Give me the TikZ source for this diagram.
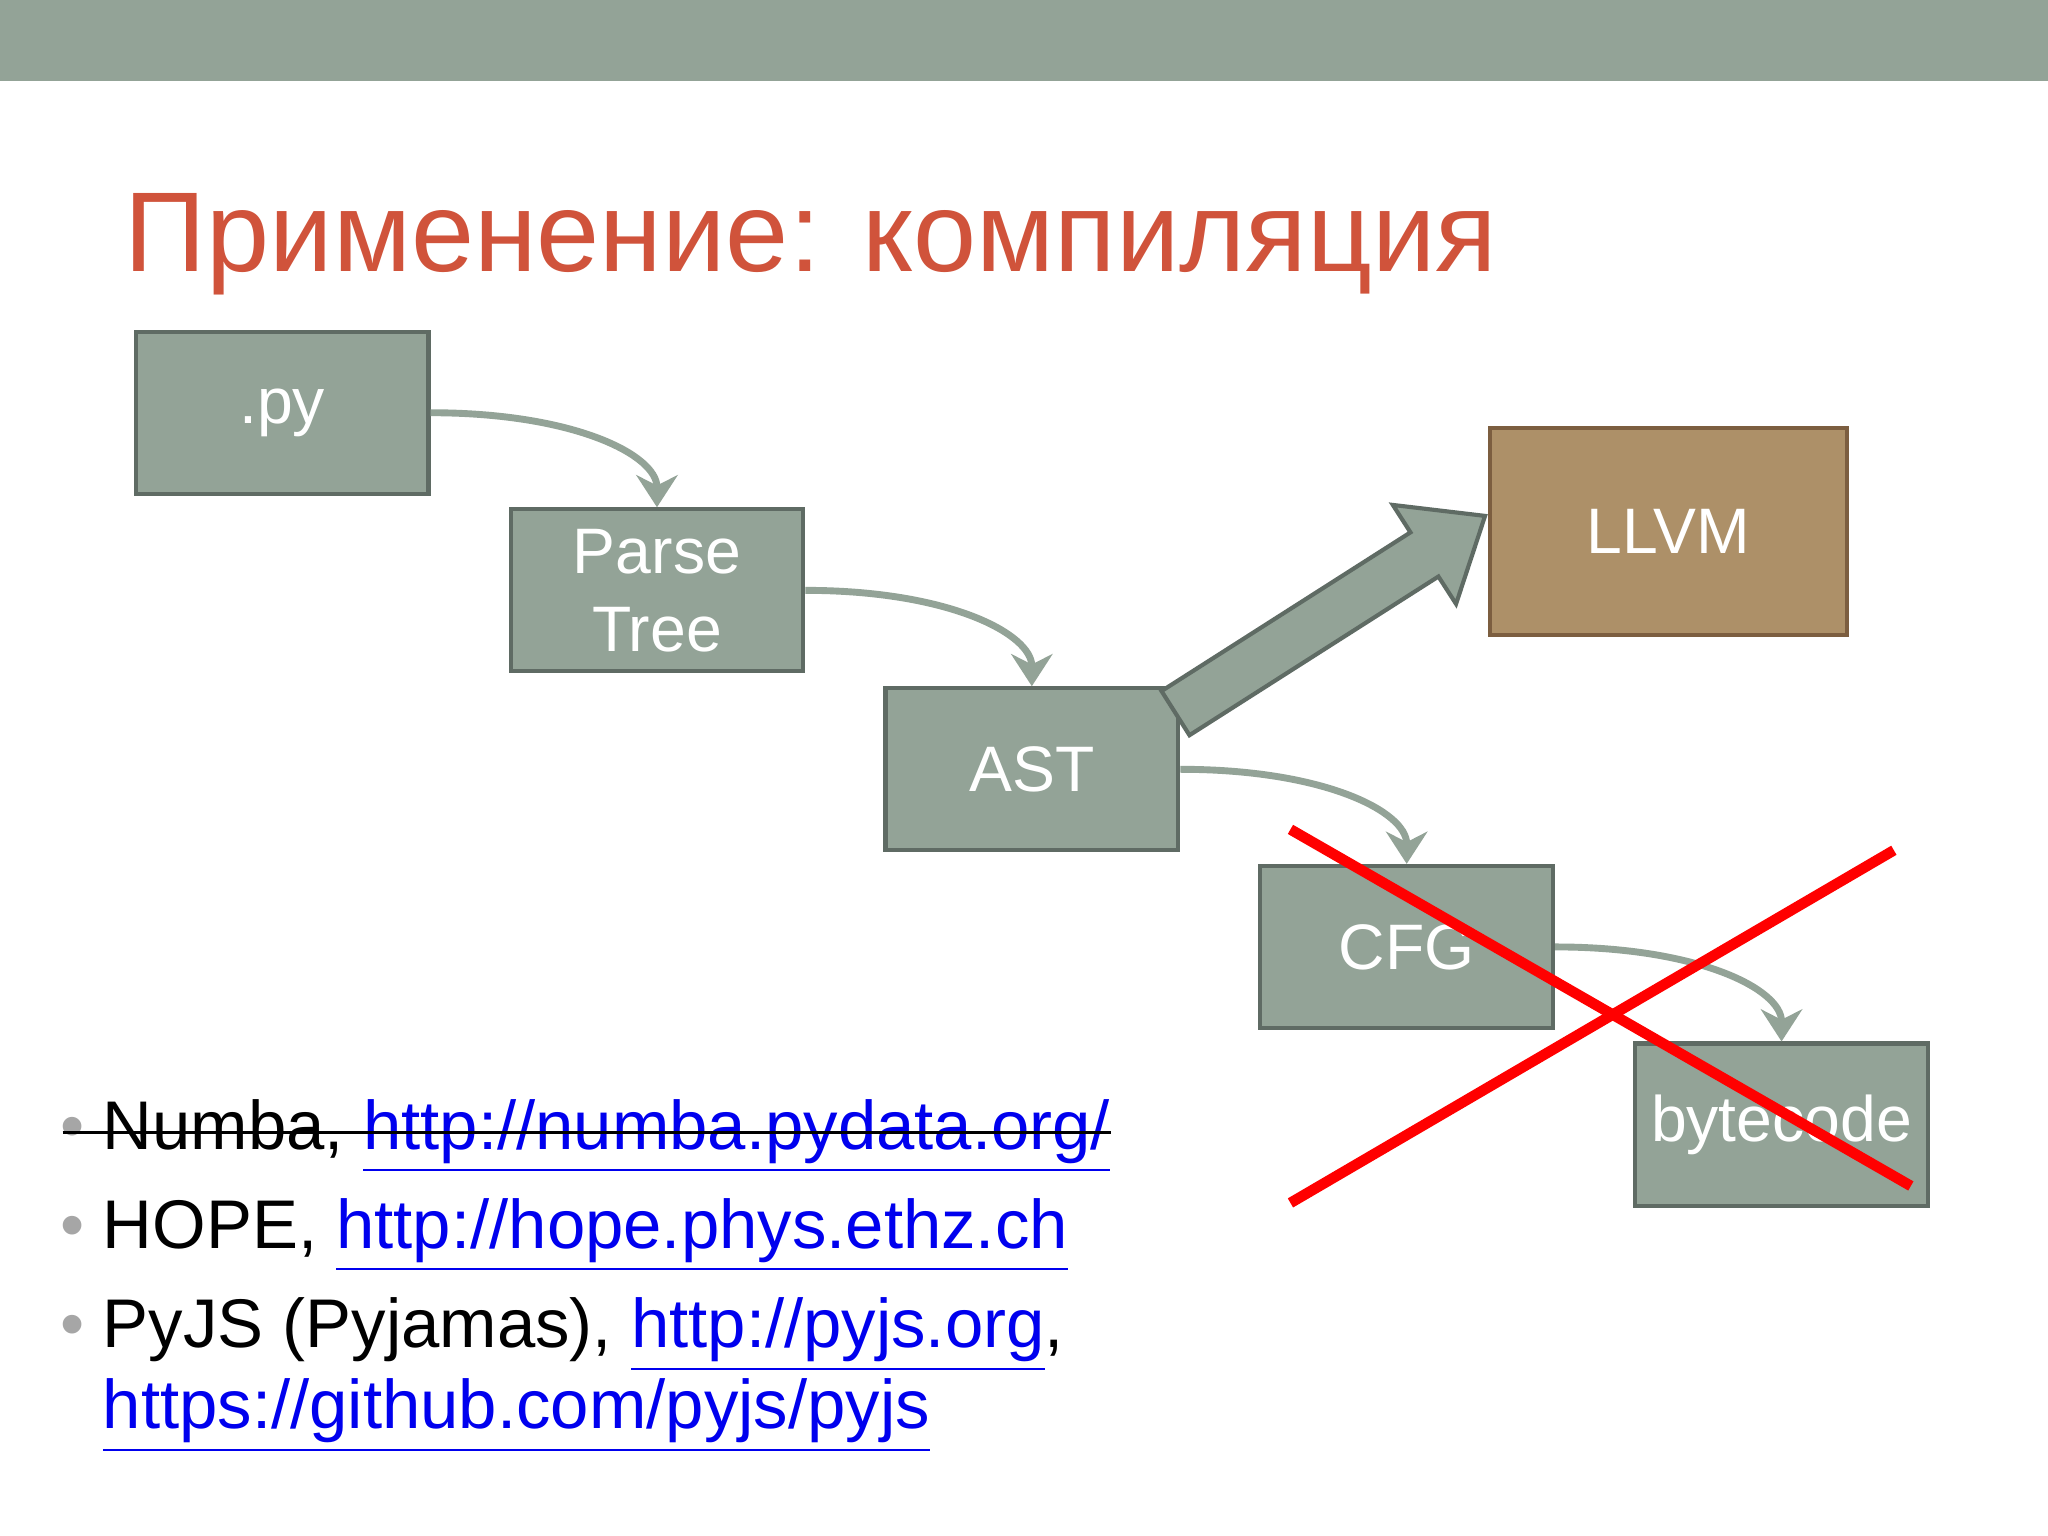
\documentclass[tikz,border=0pt]{standalone}
\usepackage{fontspec}
\setmainfont{Liberation Sans}
\usetikzlibrary{arrows.meta}
\definecolor{boxg}{HTML}{93A397}
\definecolor{boxgd}{HTML}{5F6B64}
\definecolor{llvmf}{HTML}{AD9068}
\definecolor{llvmd}{HTML}{7C5E40}
\definecolor{titlec}{HTML}{D0533B}
\definecolor{linkc}{HTML}{0000EE}
\tikzset{
  gbox/.style={draw=boxgd, fill=boxg, line width=0.9pt, minimum width=2.24cm, minimum height=1.24cm, text=white, font=\fontsize{14}{17}\selectfont, align=center, inner sep=0pt},
  flow/.style={draw=boxg, line width=1.5pt, -{Stealth[length=7pt,width=9pt]}},
  btxt/.style={anchor=base west, inner sep=0pt, font=\fontsize{15}{18}\selectfont},
  bul/.style={anchor=base west, inner sep=0pt, text=gray!70, font=\fontsize{15}{18}\selectfont},
}
\newcommand{\lnk}[1]{\textcolor{linkc}{\underline{#1}}}
\begin{document}
\begin{tikzpicture}[x=0.01cm,y=-0.01cm]
\useasboundingbox[fill=white] (0,0) rectangle (1568,1176);
\fill[boxg] (0,0) rectangle (1568,62);
\node[anchor=base west, inner sep=0pt, text=titlec, font=\fontsize{24.7}{28}\selectfont] (title) at (95,208) {Применение: компиляция};
\node[gbox] (py) at (216,316) {.py};
\node[gbox] (pt) at (503,452) {Parse\\Tree};
\node[gbox] (ast) at (790,589) {AST};
\node[gbox] (cfg) at (1077,725) {CFG};
\node[gbox] (bc) at (1364,861) {bytecode};
\node[gbox, draw=llvmd, fill=llvmf, minimum width=2.73cm, minimum height=1.58cm] (llvm) at (1277.5,407) {LLVM};
\draw[flow] (py.east) .. controls +(110,0) and +(0,-40) .. (pt.north);
\draw[flow] (pt.east) .. controls +(110,0) and +(0,-40) .. (ast.north);
\draw[flow] (ast.east) .. controls +(110,0) and +(0,-40) .. (cfg.north);
\draw[flow] (cfg.east) .. controls +(110,0) and +(0,-40) .. (bc.north);
\draw[draw=boxgd, fill=boxg, line width=0.9pt, line join=miter]
  (910.7,562.9) -- (889.3,529.1) -- (1079.9,407.6) -- (1066.4,386.6) -- (1137,395) -- (1114.8,462.4) -- (1101.3,441.4) -- cycle;
\draw[red, line width=2.3pt] (988,635) -- (1463,908);
\draw[red, line width=2.3pt] (988,921) -- (1450,651);
\node[bul] (b1) at (46,880) {•};
\node[btxt] (t1) at (78,880) {Numba, \lnk{http://numba.pydata.org/}};
\draw[black, line width=0.6pt] (48,867) -- (t1.east |- 0,867);
\node[bul] (b2) at (46,956) {•};
\node[btxt] (t2) at (78,956) {HOPE, \lnk{http://hope.phys.ethz.ch}};
\node[bul] (b3) at (46,1032) {•};
\node[btxt] (t3) at (78,1032) {PyJS (Pyjamas), \lnk{http://pyjs.org},};
\node[btxt] (t4) at (78,1094) {\lnk{https://github.com/pyjs/pyjs}};
\end{tikzpicture}
\end{document}
